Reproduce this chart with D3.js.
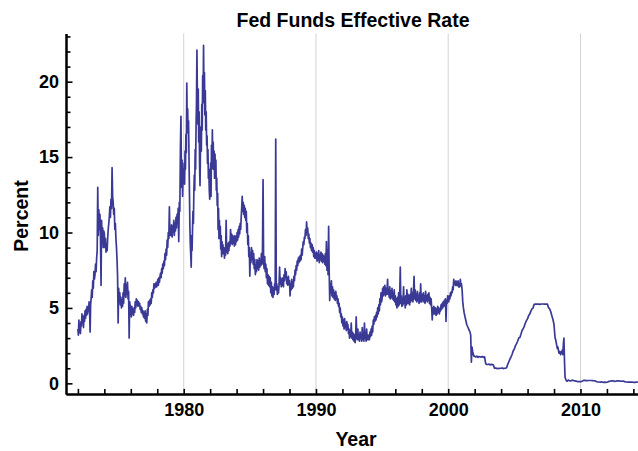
<!DOCTYPE html>
<html><head><meta charset="utf-8">
<script src="https://cdn.jsdelivr.net/npm/d3@7"></script>
<style>
body{margin:0;background:#fff}
svg{display:block}
text{font-family:"Liberation Sans",Arial,sans-serif;font-weight:bold;fill:#000}
</style>
</head><body>
<svg id="chart" width="638" height="451"></svg>
<script>
// ---- text ----
const title = "Fed Funds Effective Rate";
const xLabel = "Year";
const yLabel = "Percent";

// ---- ticks ----
const xMajorTicks = [1980, 1990, 2000, 2010];
const xMinorTicks = [1972, 1974, 1976, 1978, 1982, 1984, 1986, 1988, 1992, 1994, 1996, 1998, 2002, 2004, 2006, 2008, 2012, 2014];
const yMajorTicks = [0, 5, 10, 15, 20];
const yMinorTicks = [1, 2, 3, 4, 6, 7, 8, 9, 11, 12, 13, 14, 16, 17, 18, 19, 21, 22, 23];
const xDomain = [1971.1, 2014.35];
const yDomain = [-0.7, 23.2];
const lastDate = 2014.35;

// ---- data: readings of the daily rate (percent), evenly spread within each year ----
const r1972 = [3.6, 3.2, 4.2, 3.4, 3.9, 3.3, 4.1, 3.8, 4.6, 4.0, 4.4, 3.7, 4.5, 4.1, 4.8, 4.3, 4.9, 4.5, 5.1, 4.6, 5.0, 4.8, 5.4, 4.9, 3.4, 5.2];
const r1973 = [5.6, 6.2, 5.7, 6.8, 6.3, 7.4, 6.9, 7.2, 7.9, 7.4, 8.3, 8.8, 13.0, 9.8, 11.5, 10.2, 11.2, 9.6, 6.5, 10.8, 9.4, 10.3, 9.0, 10.1];
const r1974 = [9.9, 9.0, 9.6, 8.7, 9.2, 8.8, 9.6, 10.2, 10.6, 11.0, 11.7, 11.0, 12.2, 11.6, 14.3, 12.4, 12.0, 11.2, 11.6, 10.2, 10.6, 9.6, 9.0, 8.2];
const r1975 = [7.1, 4.0, 6.3, 5.4, 6.0, 5.2, 5.7, 5.0, 5.5, 5.1, 6.0, 5.3, 6.6, 5.8, 7.0, 5.7, 6.5, 5.9, 6.7, 5.6, 6.1, 3.0, 5.4, 5.1];
const r1976 = [4.9, 4.4, 5.1, 4.6, 4.9, 4.5, 5.0, 4.7, 5.4, 5.0, 5.6, 5.2, 5.5, 5.1, 5.4, 5.2, 5.3, 4.9, 5.1, 4.7, 5.0, 4.6, 4.8, 4.4];
const r1977 = [4.7, 4.3, 4.8, 4.1, 4.6, 4.0, 4.9, 4.5, 5.4, 5.1, 5.5, 5.2, 5.6, 5.3, 6.0, 5.7, 6.2, 6.0, 6.6, 6.3, 6.6, 6.4, 6.7, 6.4];
const r1978 = [6.6, 6.9, 6.5, 7.0, 6.7, 7.1, 7.3, 7.0, 7.6, 7.3, 7.9, 7.6, 8.1, 7.8, 8.6, 8.2, 8.9, 8.5, 9.5, 9.0, 10.0, 9.6, 11.7, 9.8];
const r1979 = [10.3, 9.8, 10.5, 9.7, 10.4, 10.0, 10.8, 9.8, 10.6, 10.1, 11.0, 10.3, 11.2, 10.6, 11.6, 9.4, 12.0, 11.4, 15.5, 17.7, 13.0, 14.8, 12.4, 14.2];
const r1980 = [13.5, 14.6, 13.2, 15.4, 14.2, 16.5, 15.3, 19.9, 17.0, 18.2, 16.6, 17.4, 15.0, 12.8, 10.4, 9.2, 8.5, 7.7, 9.8, 8.8, 10.2, 11.4, 10.6, 12.6, 13.8, 12.8, 15.5, 14.2, 17.0, 18.6];
const r1981 = [22.1, 19.0, 17.2, 19.5, 16.0, 18.0, 14.5, 13.1, 15.6, 17.0, 15.4, 18.5, 16.8, 20.4, 18.6, 22.4, 19.0, 20.6, 17.8, 19.4, 16.8, 18.0, 15.8, 16.4, 14.6, 15.5, 13.6, 14.2, 12.8, 12.2];
const r1982 = [13.0, 14.6, 12.4, 15.8, 14.2, 16.8, 14.8, 16.0, 14.2, 15.4, 13.6, 15.2, 14.0, 14.8, 12.8, 13.6, 11.8, 12.6, 10.2, 11.6, 9.6, 10.8, 9.8, 10.4, 8.9, 9.8, 8.4, 9.4, 8.6, 9.2];
const r1983 = [8.6, 9.0, 8.3, 8.9, 8.5, 10.8, 8.7, 9.2, 8.6, 9.3, 8.8, 9.4, 9.1, 10.2, 9.3, 9.9, 9.2, 9.8, 9.3, 9.7, 9.1, 9.8, 9.2, 9.7];
const r1984 = [9.4, 10.0, 9.5, 10.2, 9.7, 10.4, 9.9, 10.6, 10.2, 11.0, 11.6, 12.4, 11.4, 12.0, 11.2, 11.8, 11.0, 11.6, 10.8, 11.4, 10.0, 10.6, 9.2, 9.8, 8.4, 9.0];
const r1985 = [7.1, 8.6, 8.0, 9.0, 8.2, 8.8, 7.9, 8.6, 7.6, 8.2, 7.2, 7.8, 7.4, 8.2, 7.6, 8.1, 7.5, 8.3, 7.7, 8.2, 7.8, 8.6, 7.9, 8.8];
const r1986 = [13.5, 8.0, 7.6, 8.4, 7.4, 7.9, 7.0, 7.6, 6.6, 7.2, 6.5, 7.1, 6.4, 7.0, 6.0, 6.7, 5.8, 6.4, 5.7, 6.3, 5.9, 6.6, 6.2, 16.2];
const r1987 = [6.2, 6.6, 5.9, 6.4, 6.0, 6.5, 7.7, 6.6, 7.0, 6.4, 6.9, 6.5, 7.0, 6.4, 7.2, 6.8, 7.6, 7.0, 7.4, 6.6, 7.0, 6.5, 7.1, 6.6];
const r1988 = [6.8, 5.8, 6.6, 6.2, 6.9, 6.3, 6.7, 6.4, 7.1, 6.8, 7.5, 7.2, 7.8, 7.5, 8.1, 7.8, 8.3, 8.0, 8.4, 8.1, 8.5, 8.2, 8.9, 8.5];
const r1989 = [9.0, 9.4, 9.2, 9.7, 9.6, 10.2, 9.8, 10.7, 10.0, 10.3, 9.6, 9.9, 9.3, 9.6, 9.0, 9.3, 8.8, 9.2, 8.7, 9.0, 8.4, 8.8, 8.3, 8.6];
const r1990 = [8.3, 8.7, 8.1, 8.6, 8.2, 8.8, 8.0, 8.5, 8.2, 8.7, 8.1, 8.6, 8.0, 8.5, 8.1, 8.4, 7.9, 8.6, 7.8, 9.4, 7.5, 8.8, 7.2, 10.4];
const r1991 = [7.4, 5.5, 6.6, 6.0, 6.8, 5.8, 6.4, 5.7, 6.2, 5.6, 6.0, 5.5, 6.1, 5.6, 5.8, 5.3, 5.6, 5.1, 5.3, 4.7, 5.0, 4.4, 4.6, 4.0];
const r1992 = [4.4, 3.8, 4.2, 3.6, 4.3, 3.7, 4.0, 3.5, 4.1, 3.6, 3.9, 3.3, 3.6, 3.0, 3.5, 3.1, 4.0, 3.0, 3.4, 2.9, 3.3, 2.8, 3.2, 2.7];
const r1993 = [3.1, 4.4, 3.3, 2.9, 3.6, 2.9, 3.2, 2.8, 3.4, 3.0, 3.1, 2.8, 3.7, 2.9, 3.2, 2.8, 4.0, 3.0, 3.1, 2.8, 3.6, 2.9, 3.2, 2.9];
const r1994 = [3.2, 2.9, 3.4, 3.1, 3.6, 3.2, 3.8, 3.4, 4.2, 3.9, 4.4, 4.1, 4.5, 4.2, 4.7, 4.4, 5.0, 4.6, 5.2, 4.8, 5.6, 5.2, 6.0, 5.4];
const r1995 = [5.6, 6.3, 5.8, 6.4, 5.9, 6.5, 5.8, 6.3, 5.9, 6.2, 6.9, 5.9, 6.2, 5.7, 6.4, 5.6, 6.1, 5.7, 6.3, 5.6, 6.0, 5.5, 6.2, 5.4];
const r1996 = [5.8, 5.2, 5.6, 5.0, 5.7, 5.1, 6.0, 5.2, 5.9, 7.7, 5.3, 5.8, 5.1, 5.6, 5.2, 6.4, 5.3, 5.7, 5.0, 5.8, 5.2, 6.2, 5.3, 5.9];
const r1997 = [5.3, 5.8, 5.2, 5.9, 5.4, 6.3, 5.5, 6.0, 5.4, 6.1, 7.1, 5.6, 6.2, 5.5, 5.9, 5.4, 6.1, 5.5, 5.8, 5.3, 6.0, 5.4, 6.6, 5.5];
const r1998 = [5.4, 5.9, 5.5, 6.0, 5.4, 5.8, 5.3, 6.1, 5.5, 5.8, 5.4, 5.9, 5.5, 6.0, 5.3, 5.7, 5.2, 5.6, 5.0, 4.2, 5.0, 4.6, 5.1, 4.6];
const r1999 = [4.6, 5.0, 4.5, 4.9, 4.6, 5.1, 4.7, 5.0, 4.6, 4.9, 4.8, 5.2, 4.9, 5.3, 5.0, 5.4, 5.1, 5.5, 5.2, 5.6, 4.1, 5.5, 5.3, 5.8];
const r2000 = [5.6, 5.4, 5.8, 5.6, 6.0, 5.8, 6.1, 6.0, 6.4, 6.2, 6.9, 6.6, 6.7, 6.5, 6.8, 6.5, 6.7, 6.5, 6.8, 6.4, 6.6, 6.4, 6.9, 6.5];
const r2001 = [6.6, 6.2, 5.4, 5.0, 4.7, 4.5, 4.3, 4.1, 3.9, 3.8, 3.7, 3.6, 3.5, 3.4, 3.2, 1.4, 2.4, 2.1, 1.9, 1.8];
const r2002 = [1.8, 1.75, 1.8, 1.72, 1.78, 1.75, 1.74, 1.78, 1.72, 1.76, 1.3, 1.25];
const r2003 = [1.25, 1.28, 1.22, 1.26, 1.24, 1.22, 1.0, 1.02, 0.98, 1.0, 0.98, 1.0];
const r2004 = [1.0, 1.02, 0.98, 1.0, 1.0, 1.03, 1.26, 1.43, 1.61, 1.76, 1.93, 2.16];
const r2005 = [2.28, 2.5, 2.63, 2.79, 3.0, 3.04, 3.26, 3.5, 3.62, 3.78, 4.0, 4.16];
const r2006 = [4.29, 4.49, 4.59, 4.79, 4.94, 4.99, 5.24, 5.25, 5.25, 5.25, 5.25, 5.24];
const r2007 = [5.25, 5.26, 5.26, 5.25, 5.25, 5.25, 5.26, 5.02, 4.94, 4.76, 4.49, 4.24];
const r2008 = [3.9, 3.4, 3.0, 2.9, 2.7, 2.5, 2.3, 2.4, 2.2, 2.0, 2.1, 2.0, 1.9, 2.1, 2.0, 2.2, 1.9, 2.6, 3.0, 1.5, 0.4, 0.3, 0.2, 0.15];
const r2009 = [0.15, 0.22, 0.18, 0.16, 0.19, 0.21, 0.17, 0.16, 0.15, 0.12, 0.12, 0.12];
const r2010 = [0.11, 0.13, 0.16, 0.2, 0.2, 0.18, 0.18, 0.19, 0.19, 0.19, 0.19, 0.18];
const r2011 = [0.17, 0.16, 0.14, 0.1, 0.09, 0.09, 0.07, 0.1, 0.08, 0.07, 0.08, 0.07];
const r2012 = [0.08, 0.1, 0.13, 0.14, 0.16, 0.16, 0.16, 0.13, 0.14, 0.16, 0.16, 0.16];
const r2013 = [0.14, 0.15, 0.14, 0.15, 0.11, 0.09, 0.09, 0.08, 0.08, 0.09, 0.08, 0.09];
const r2014 = [0.07, 0.07, 0.08, 0.09];

const yearList = [1972, 1973, 1974, 1975, 1976, 1977, 1978, 1979, 1980, 1981, 1982, 1983, 1984, 1985, 1986, 1987, 1988, 1989, 1990, 1991, 1992, 1993, 1994, 1995, 1996, 1997, 1998, 1999, 2000, 2001, 2002, 2003, 2004, 2005, 2006, 2007, 2008, 2009, 2010, 2011, 2012, 2013, 2014];
const yearRates = [r1972, r1973, r1974, r1975, r1976, r1977, r1978, r1979, r1980, r1981, r1982, r1983, r1984, r1985, r1986, r1987, r1988, r1989, r1990, r1991, r1992, r1993, r1994, r1995, r1996, r1997, r1998, r1999, r2000, r2001, r2002, r2003, r2004, r2005, r2006, r2007, r2008, r2009, r2010, r2011, r2012, r2013, r2014];

// build the time series (dates spread evenly inside each year)
const series = [];
yearList.forEach((yr, k) => {
  const vals = yearRates[k];
  const last = k === yearList.length - 1;
  const step = last ? (lastDate - yr) / (vals.length - 1) : 1 / vals.length;
  vals.forEach((v, i) => series.push({t: yr + i * step, v: v}));
});

// ---- drawing ----
const svg = d3.select("#chart");
const x = d3.scaleLinear().domain(xDomain).range([66, 638]);
const y = d3.scaleLinear().domain(yDomain).range([393.9, 33.4]);

// grid lines
svg.append("g").selectAll("line").data(xMajorTicks).join("line")
  .attr("x1", d => x(d)).attr("x2", d => x(d))
  .attr("y1", y(yDomain[1])).attr("y2", y(yDomain[0]))
  .attr("stroke", "#d4d4d4").attr("stroke-width", 1);

// data line
const line = d3.line().x(d => x(d.t)).y(d => y(d.v));
svg.append("path").datum(series)
  .attr("d", line)
  .attr("fill", "none")
  .attr("stroke", "#3a3a96")
  .attr("stroke-width", 1.7)
  .attr("stroke-linejoin", "round");

// x axis
const xAxisG = svg.append("g").attr("transform", `translate(0,${y(yDomain[0])})`);
xAxisG.call(d3.axisBottom(x).tickValues(xMinorTicks).tickSize(-5).tickSizeOuter(0).tickFormat(""));
xAxisG.append("g").call(d3.axisBottom(x).tickValues(xMajorTicks).tickSize(-5).tickSizeOuter(0).tickPadding(9.5).tickFormat(d3.format("d")));

// y axis
const yAxisG = svg.append("g").attr("transform", `translate(${x(xDomain[0])},0)`);
yAxisG.call(d3.axisLeft(y).tickValues(yMinorTicks).tickSize(-4.5).tickSizeOuter(0).tickFormat(""));
yAxisG.append("g").call(d3.axisLeft(y).tickValues(yMajorTicks).tickSize(-6.5).tickSizeOuter(0).tickPadding(7).tickFormat(d3.format("d")));

svg.selectAll(".domain").attr("stroke", "#000").attr("stroke-width", 2);
svg.selectAll(".tick line").attr("stroke", "#000").attr("stroke-width", 1.6);
svg.selectAll(".tick text").attr("font-size", 18).attr("font-family", "Liberation Sans, Arial, sans-serif").attr("font-weight", "bold").attr("fill", "#000");

// titles
svg.append("text").attr("x", 353).attr("y", 27).attr("text-anchor", "middle")
  .attr("font-size", 19.5).text(title);
svg.append("text").attr("x", 356).attr("y", 446).attr("text-anchor", "middle")
  .attr("font-size", 19.5).text(xLabel);
svg.append("text").attr("transform", "translate(28,216) rotate(-90)").attr("text-anchor", "middle")
  .attr("font-size", 19.5).text(yLabel);
</script>
</body></html>
